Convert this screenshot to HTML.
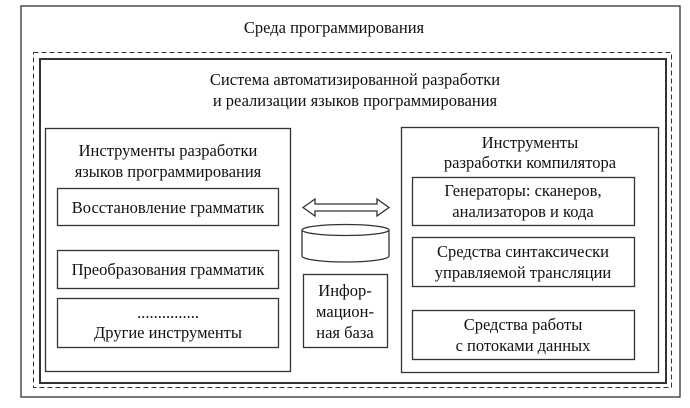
<!DOCTYPE html>
<html><head><meta charset="utf-8"><style>
html,body{margin:0;padding:0;background:#fff}
svg text{font-family:"Liberation Serif","Times New Roman","DejaVu Serif",serif;font-size:16.5px;fill:#111;text-anchor:middle}
</style></head><body>
<svg width="690" height="403" viewBox="0 0 690 403" xmlns="http://www.w3.org/2000/svg">
<g fill="none" stroke="#333">
<rect x="21" y="6" width="659" height="391" stroke-width="1.3"/>
<rect x="33.5" y="52.5" width="638" height="335" stroke-width="1" stroke-dasharray="5,3"/>
<rect x="40" y="59" width="626" height="324" stroke-width="2"/>
<rect x="45.5" y="128.5" width="245" height="243" stroke-width="1.3"/>
<rect x="401.5" y="127.5" width="257" height="245" stroke-width="1.3"/>
<rect x="57.5" y="188.5" width="221" height="37" stroke-width="1.3"/>
<rect x="57.5" y="250.5" width="221" height="38" stroke-width="1.3"/>
<rect x="57.5" y="298.5" width="221" height="49" stroke-width="1.3"/>
<rect x="412.5" y="177.5" width="222" height="48" stroke-width="1.3"/>
<rect x="412.5" y="237.5" width="222" height="49" stroke-width="1.3"/>
<rect x="412.5" y="310.5" width="222" height="49" stroke-width="1.3"/>
<rect x="303.5" y="274.5" width="84" height="73" stroke-width="1.3"/>
<path d="M302,230 L302,256 A43.5,6 0 0 0 389,256 L389,230" stroke-width="1.3"/>
<ellipse cx="345.5" cy="230" rx="43.5" ry="5.5" stroke-width="1.3"/>
<path d="M303,207.5 L315,199 L315,204 L377,204 L377,199 L389,207.5 L377,216 L377,211 L315,211 L315,216 Z" stroke-width="1.3"/>
</g>
<g font-family="Liberation Serif, Times New Roman, DejaVu Serif, serif" font-size="16.5">
<text x="334" y="33">Среда программирования</text>
<text x="355" y="85">Система автоматизированной разработки</text>
<text x="355" y="106">и реализации языков программирования</text>
<text x="168" y="156">Инструменты разработки</text>
<text x="168" y="177">языков программирования</text>
<text x="168" y="213">Восстановление грамматик</text>
<text x="168" y="275">Преобразования грамматик</text>
<text x="168" y="318">...............</text>
<text x="168" y="338">Другие инструменты</text>
<text x="530" y="148">Инструменты</text>
<text x="530" y="168">разработки компилятора</text>
<text x="523" y="196">Генераторы: сканеров,</text>
<text x="523" y="217">анализаторов и кода</text>
<text x="523" y="257">Средства синтаксически</text>
<text x="523" y="278">управляемой трансляции</text>
<text x="523" y="330">Средства работы</text>
<text x="523" y="351">с потоками данных</text>
<text x="345" y="296">Инфор-</text>
<text x="345" y="317">мацион-</text>
<text x="345" y="338">ная база</text>
</g>
</svg>
</body></html>
